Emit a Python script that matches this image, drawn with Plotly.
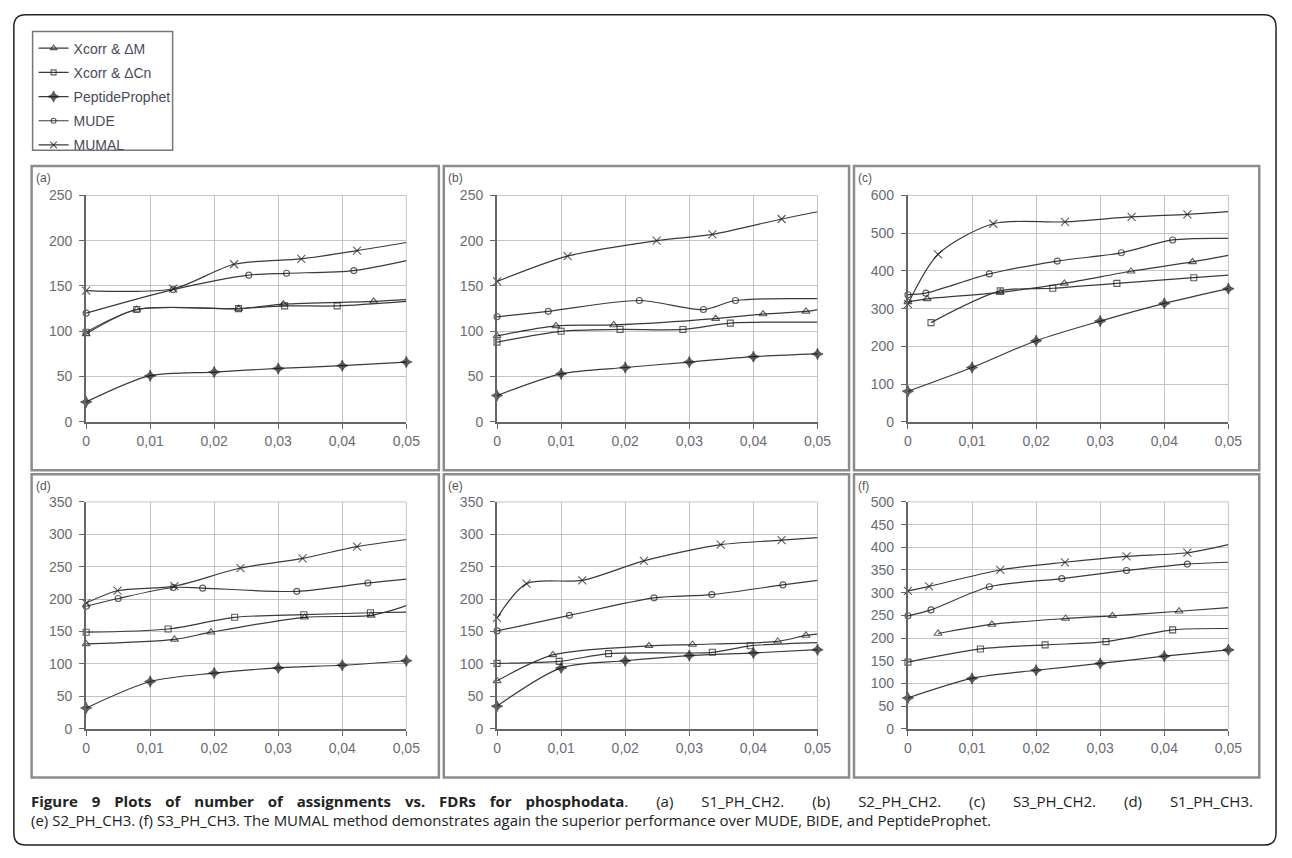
import plotly.graph_objects as go

# ---------------- data ----------------
SERIES = ["Xcorr & \u0394M", "Xcorr & \u0394Cn", "PeptideProphet", "MUDE", "MUMAL"]
PANEL_LABELS = ["(a)", "(b)", "(c)", "(d)", "(e)", "(f)"]
X_TICK_VALUES = [0, 0.01, 0.02, 0.03, 0.04, 0.05]
X_TICK_LABELS = ["0", "0,01", "0,02", "0,03", "0,04", "0,05"]
Y_MAX = [250, 250, 600, 350, 350, 500]
Y_STEP = [50, 50, 100, 50, 50, 50]
FDR_GRID = [0, 0.01, 0.02, 0.03, 0.04, 0.05]

# (a) S1_PH_CH2
A_XDM_X = [0, 0.0079, 0.0238, 0.0308, 0.0449, 0.05]
A_XDM_Y = [97, 124, 125, 130, 133, 135]
A_XDCN_X = [0, 0.0079, 0.0238, 0.031, 0.0392, 0.05]
A_XDCN_Y = [99, 124, 125, 128, 128, 133]
A_PP_Y = [22, 51, 55, 59, 62, 66]
A_MUDE_X = [0, 0.0136, 0.0254, 0.0313, 0.0418, 0.05]
A_MUDE_Y = [120, 146, 162, 164, 167, 178]
A_MUMAL_X = [0, 0.0136, 0.0231, 0.0336, 0.0423, 0.05]
A_MUMAL_Y = [145, 147, 174, 180, 189, 198]

# (b) S2_PH_CH2
B_XDM_X = [0, 0.0092, 0.0182, 0.0341, 0.0415, 0.0482, 0.05]
B_XDM_Y = [95, 106, 107, 114, 119, 122, 124]
B_XDCN_X = [0, 0.01, 0.0192, 0.029, 0.0364, 0.05]
B_XDCN_Y = [88, 100, 102, 102, 109, 110]
B_PP_Y = [29, 53, 60, 66, 72, 75]
B_MUDE_X = [0, 0.008, 0.0222, 0.0322, 0.0372, 0.05]
B_MUDE_Y = [116, 122, 134, 124, 134, 136]
B_MUMAL_X = [0, 0.011, 0.0249, 0.0336, 0.0444, 0.05]
B_MUMAL_Y = [155, 183, 200, 207, 224, 232]

# (c) S3_PH_CH2
C_XDM_X = [0, 0.003, 0.0144, 0.0244, 0.0348, 0.0444, 0.05]
C_XDM_Y = [318, 326, 343, 367, 399, 424, 441]
C_XDCN_X = [0.0036, 0.0144, 0.0226, 0.0326, 0.0446, 0.05]
C_XDCN_Y = [263, 347, 354, 367, 382, 389]
C_PP_Y = [81, 144, 215, 267, 314, 353]
C_MUDE_X = [0, 0.0028, 0.0127, 0.0233, 0.0333, 0.0413, 0.05]
C_MUDE_Y = [337, 341, 392, 426, 448, 482, 486]
C_MUMAL_X = [0, 0.0047, 0.0133, 0.0245, 0.0349, 0.0436, 0.05]
C_MUMAL_Y = [312, 444, 525, 530, 543, 550, 557]

# (d) S1_PH_CH3
D_XDM_X = [0, 0.0138, 0.0195, 0.0341, 0.0445, 0.05]
D_XDM_Y = [131, 138, 149, 172, 175, 190]
D_XDCN_X = [0, 0.0128, 0.0232, 0.034, 0.0444, 0.05]
D_XDCN_Y = [149, 154, 172, 176, 179, 180]
D_PP_Y = [32, 73, 86, 94, 98, 105]
D_MUDE_X = [0, 0.005, 0.0136, 0.0182, 0.0329, 0.044, 0.05]
D_MUDE_Y = [189, 201, 218, 217, 212, 225, 231]
D_MUMAL_X = [0, 0.0049, 0.0138, 0.0241, 0.0338, 0.0423, 0.05]
D_MUMAL_Y = [194, 213, 220, 248, 263, 281, 292]

# (e) S2_PH_CH3
E_XDM_X = [0, 0.0087, 0.0237, 0.0305, 0.0438, 0.0482, 0.05]
E_XDM_Y = [74, 114, 128, 130, 135, 144, 146]
E_XDCN_X = [0, 0.0097, 0.0174, 0.0336, 0.0395, 0.05]
E_XDCN_Y = [101, 104, 116, 118, 128, 133]
E_PP_Y = [35, 94, 105, 113, 117, 122]
E_MUDE_X = [0, 0.0113, 0.0245, 0.0335, 0.0446, 0.05]
E_MUDE_Y = [151, 175, 202, 207, 222, 229]
E_MUMAL_X = [0, 0.0046, 0.0133, 0.0229, 0.0349, 0.0444, 0.05]
E_MUMAL_Y = [171, 224, 229, 259, 284, 291, 295]

# (f) S3_PH_CH3
F_XDM_X = [0.0047, 0.0131, 0.0246, 0.0319, 0.0423, 0.05]
F_XDM_Y = [210, 230, 243, 249, 259, 267]
F_XDCN_X = [0, 0.0113, 0.0214, 0.0309, 0.0413, 0.05]
F_XDCN_Y = [147, 176, 185, 192, 218, 221]
F_PP_Y = [68, 111, 129, 144, 160, 174]
F_MUDE_X = [0, 0.0036, 0.0127, 0.024, 0.0341, 0.0436, 0.05]
F_MUDE_Y = [249, 262, 313, 331, 349, 363, 367]
F_MUMAL_X = [0, 0.0033, 0.0144, 0.0245, 0.0341, 0.0436, 0.05]
F_MUMAL_Y = [304, 314, 350, 367, 380, 388, 406]

CAPTION_BOLD = "Figure 9 Plots of number of assignments vs. FDRs for phosphodata"
CAPTION_LINE1 = ". (a) S1_PH_CH2. (b) S2_PH_CH2. (c) S3_PH_CH2. (d) S1_PH_CH3."
CAPTION_LINE2 = ("(e) S2_PH_CH3. (f) S3_PH_CH3. The MUMAL method demonstrates again the superior "
                 "performance over MUDE, BIDE, and PeptideProphet.")

PANELS = [
    [(A_XDM_X, A_XDM_Y), (A_XDCN_X, A_XDCN_Y), (FDR_GRID, A_PP_Y), (A_MUDE_X, A_MUDE_Y), (A_MUMAL_X, A_MUMAL_Y)],
    [(B_XDM_X, B_XDM_Y), (B_XDCN_X, B_XDCN_Y), (FDR_GRID, B_PP_Y), (B_MUDE_X, B_MUDE_Y), (B_MUMAL_X, B_MUMAL_Y)],
    [(C_XDM_X, C_XDM_Y), (C_XDCN_X, C_XDCN_Y), (FDR_GRID, C_PP_Y), (C_MUDE_X, C_MUDE_Y), (C_MUMAL_X, C_MUMAL_Y)],
    [(D_XDM_X, D_XDM_Y), (D_XDCN_X, D_XDCN_Y), (FDR_GRID, D_PP_Y), (D_MUDE_X, D_MUDE_Y), (D_MUMAL_X, D_MUMAL_Y)],
    [(E_XDM_X, E_XDM_Y), (E_XDCN_X, E_XDCN_Y), (FDR_GRID, E_PP_Y), (E_MUDE_X, E_MUDE_Y), (E_MUMAL_X, E_MUMAL_Y)],
    [(F_XDM_X, F_XDM_Y), (F_XDCN_X, F_XDCN_Y), (FDR_GRID, F_PP_Y), (F_MUDE_X, F_MUDE_Y), (F_MUMAL_X, F_MUMAL_Y)],
]

# ---------------- layout geometry (pixels) ----------------
W, H = 1292, 858
COL_PLOT = [(83.3, 408.0), (500.0, 825.0), (916.7, 1241.7)]
ROW_PLOT = [(191.0, 421.7), (503.3, 734.5)]
COL_BOX = [(28, 441), (446, 857), (862, 1273)]
ROW_BOX = [(161, 471), (475, 784)]


def px(x):
    return x / W


def py(y):
    return 1 - y / H


SYMBOLS = ["triangle-up-open", "square-open", "star-diamond", "circle-open", "x-thin-open"]
SIZES = [7, 6, 8, 6, 8]
LINE_COLOR = "#3a3a3a"
MARK_COLOR = "#1a1a1a"
TICK_FONT = dict(family="Liberation Sans, Arial", size=14, color="#6b6b72")

fig = go.Figure()
layout_axes = {}
for i, series in enumerate(PANELS):
    r, c = divmod(i, 3)
    n = i + 1
    xa = "x" if n == 1 else f"x{n}"
    ya = "y" if n == 1 else f"y{n}"
    for s, (xs, ys) in enumerate(series):
        show_last = s == 2
        sizes = [SIZES[s] if (xv < 0.05 or show_last) else 0 for xv in xs]
        fig.add_trace(go.Scatter(
            x=xs, y=ys, xaxis=xa, yaxis=ya, name=SERIES[s],
            mode="lines+markers",
            line=dict(color=LINE_COLOR, width=1.2, shape="spline", smoothing=0.8),
            marker=dict(symbol=SYMBOLS[s], size=sizes, color=MARK_COLOR,
                        line=dict(color=MARK_COLOR, width=1.1)),
            showlegend=(i == 0), legendgroup=SERIES[s], cliponaxis=False,
            hoverinfo="skip",
        ))
    x0, x1 = COL_PLOT[c]
    y0, y1 = ROW_PLOT[r]
    key_x = "xaxis" if n == 1 else f"xaxis{n}"
    key_y = "yaxis" if n == 1 else f"yaxis{n}"
    common = dict(showline=True, linecolor="#666", linewidth=2,
                  ticks="outside", ticklen=5, tickcolor="#666", tickwidth=1,
                  showgrid=True, gridcolor="#c4c4c4", gridwidth=1, zeroline=False,
                  tickfont=TICK_FONT, fixedrange=True)
    layout_axes[key_x] = dict(domain=[px(x0), px(x1)], anchor=ya, range=[0, 0.05],
                              tickvals=X_TICK_VALUES, ticktext=X_TICK_LABELS, **common)
    layout_axes[key_y] = dict(domain=[py(y1), py(y0)], anchor=xa, range=[0, Y_MAX[i]],
                              dtick=Y_STEP[i], ticklabelstandoff=4, **common)

shapes = []
annotations = []
for i in range(6):
    r, c = divmod(i, 3)
    bx0, bx1 = COL_BOX[c]
    by0, by1 = ROW_BOX[r]
    shapes.append(dict(type="rect", xref="paper", yref="paper",
                       x0=px(bx0), x1=px(bx1), y0=py(by1), y1=py(by0),
                       line=dict(color="#8c8c8c", width=2.5), layer="below"))
    x0, x1 = COL_PLOT[c]
    y0, y1 = ROW_PLOT[r]
    shapes.append(dict(type="line", xref="paper", yref="paper",
                       x0=px(x1), x1=px(x1), y0=py(y1), y1=py(y0),
                       line=dict(color="#c4c4c4", width=1), layer="below"))
    shapes.append(dict(type="line", xref="paper", yref="paper",
                       x0=px(x0), x1=px(x1), y0=py(y0), y1=py(y0),
                       line=dict(color="#c4c4c4", width=1), layer="below"))
    annotations.append(dict(text=PANEL_LABELS[i], xref="paper", yref="paper",
                            x=px(bx0 + 2), y=py(by0 + 3), xanchor="left", yanchor="top",
                            showarrow=False,
                            font=dict(family="Liberation Sans, Arial", size=12, color="#555")))

# legend frame
shapes.append(dict(type="rect", xref="paper", yref="paper",
                   x0=px(29), x1=px(171), y0=py(145), y1=py(24),
                   line=dict(color="#777", width=1.5)))

# outer rounded frame
L, T, R, B, rad = 10, 7, 1290, 853, 12
path = (f"M {px(L+rad)} {py(T)} L {px(R-rad)} {py(T)} Q {px(R)} {py(T)} {px(R)} {py(T+rad)} "
        f"L {px(R)} {py(B-rad)} Q {px(R)} {py(B)} {px(R-rad)} {py(B)} "
        f"L {px(L+rad)} {py(B)} Q {px(L)} {py(B)} {px(L)} {py(B-rad)} "
        f"L {px(L)} {py(T+rad)} Q {px(L)} {py(T)} {px(L+rad)} {py(T)} Z")
shapes.append(dict(type="path", xref="paper", yref="paper", path=path,
                   line=dict(color="#222", width=1.5)))

# caption (first line justified by widening word gaps)
GAP_BOLD = "\u2002\u2009 "
GAP_REG = "\u2003\u2002\u200a "
line1 = ("<b>" + GAP_BOLD.join(CAPTION_BOLD.split(" ")) + "</b>"
         + GAP_REG.join(CAPTION_LINE1.split(" ")))
annotations.append(dict(text=line1, xref="paper", yref="paper", x=px(25), y=py(808),
                        xanchor="left", yanchor="middle", align="left", showarrow=False,
                        font=dict(family="Open Sans", size=15, color="#222")))
annotations.append(dict(text=CAPTION_LINE2, xref="paper", yref="paper", x=px(25), y=py(827),
                        xanchor="left", yanchor="middle", align="left", showarrow=False,
                        font=dict(family="Open Sans", size=15, color="#222")))

fig.update_layout(
    width=W, height=H, margin=dict(l=0, r=0, t=0, b=0),
    paper_bgcolor="white", plot_bgcolor="white",
    shapes=shapes, annotations=annotations,
    showlegend=True, hovermode=False,
    legend=dict(x=px(30), y=py(25), xanchor="left", yanchor="top",
                bgcolor="rgba(0,0,0,0)", borderwidth=0,
                font=dict(family="Liberation Sans, Arial", size=14, color="#4a4a5c"),
                tracegroupgap=3, itemwidth=30),
    **layout_axes,
)

fig.write_html(
    "out.html",
    config={"displayModeBar": False, "staticPlot": False},
    post_script="document.body.style.margin='0';document.body.style.padding='0';"
                "document.documentElement.style.overflow='hidden';",
)
